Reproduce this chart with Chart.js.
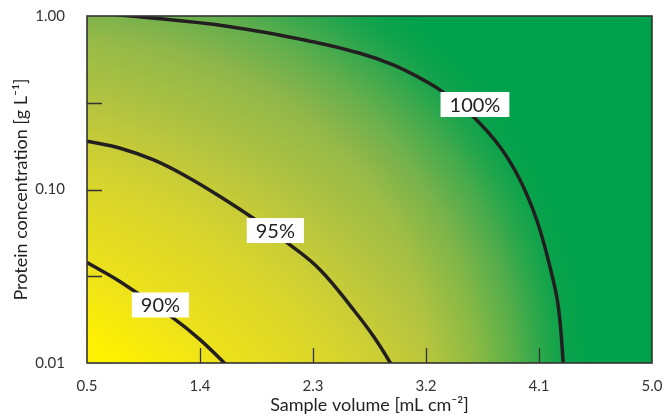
<!DOCTYPE html>
<html>
<head>
<meta charset="utf-8">
<script src="https://cdn.jsdelivr.net/npm/chart.js@4.4.0/dist/chart.umd.min.js"></script>
<style>
  html, body { margin: 0; padding: 0; background: #fff; }
  #wrap { width: 668px; height: 417px; }
</style>
</head>
<body>
<div id="wrap"><canvas id="yieldChart" width="668" height="417"></canvas></div>
<script>
// contour lines (sample volume in mL cm-2, protein concentration in g/L)
const volume100 = [0.5, 0.85, 1.64, 2.30, 2.674, 2.939, 3.205, 3.351, 3.577, 3.789, 3.949, 4.082, 4.187, 4.254, 4.299];
const conc100   = [1.05, 1.0, 0.868, 0.711, 0.610, 0.522, 0.418, 0.358, 0.263, 0.1765, 0.1135, 0.0667, 0.0359, 0.0211, 0.0088];

const volume95 = [0.5, 0.765, 1.031, 1.296, 1.562, 1.828, 2.117, 2.358, 2.624, 2.783, 2.965];
const conc95   = [0.190, 0.173, 0.148, 0.1185, 0.0909, 0.0680, 0.0480, 0.0344, 0.0202, 0.0142, 0.0088];

const volume90 = [0.5, 0.765, 1.190, 1.402, 1.673];
const conc90   = [0.0379, 0.0294, 0.0181, 0.0136, 0.0088];

// contour labels
const labelText = ['100%', '95%', '90%'];
const labelX = [3.59, 2.0, 1.085];
const labelY = [0.309, 0.058, 0.0216];

// ticks
const xTicks = [0.5, 1.4, 2.3, 3.2, 4.1, 5.0];
const yTicks = [0.01, 0.1, 1.0];
const yMinorTicks = [0.0316, 0.316];

const ink = '#231f20';

function toPoints(xs, ys) {
    return xs.map((v, i) => ({x: v, y: ys[i]}));
}

function contour(xs, ys) {
    return {
        data: toPoints(xs, ys),
        showLine: true,
        borderColor: ink,
        borderWidth: 3.5,
        pointRadius: 0,
        fill: false,
        tension: 0.4,
        clip: 0
    };
}

const backdrop = {
    id: 'backdrop',
    beforeDatasetsDraw(chart) {
        const {ctx, chartArea: a} = chart;
        const w = a.right - a.left, h = a.bottom - a.top;
        const u = h / 347;  // gradient was measured on a 347px tall plot
        ctx.save();
        ctx.beginPath();
        ctx.rect(a.left, a.top, w, h);
        ctx.clip();

        // yellow -> green, centred below-left of the plot corner
        ctx.save();
        ctx.translate(a.left - 200 * u, a.bottom + 200 * u);
        ctx.scale(1.25, 1);
        const g = ctx.createRadialGradient(0, 0, 271 * u, 0, 0, 730 * u);
        g.addColorStop(0, '#fff200');
        g.addColorStop(0.139, '#ede21b');
        g.addColorStop(0.251, '#e0d925');
        g.addColorStop(0.307, '#d8d52c');
        g.addColorStop(0.403, '#c6cb38');
        g.addColorStop(0.481, '#b2c340');
        g.addColorStop(0.564, '#9fbd45');
        g.addColorStop(0.651, '#8cb54b');
        g.addColorStop(0.743, '#6fb04d');
        g.addColorStop(0.804, '#55ab4f');
        g.addColorStop(0.878, '#36a74f');
        g.addColorStop(0.946, '#15a24d');
        g.addColorStop(1, '#00a14b');
        ctx.fillStyle = g;
        ctx.fillRect(-3000, -3000, 6000, 6000);
        ctx.restore();

        // full green closes in along the 100% contour
        ctx.save();
        ctx.translate(a.left, a.bottom);
        ctx.scale(1, 0.952);
        const rx = w * 0.855 * 1.04;
        const og = ctx.createRadialGradient(0, 0, 0, 0, 0, rx);
        og.addColorStop(0, 'rgba(0,161,75,0)');
        og.addColorStop(0.673, 'rgba(0,161,75,0)');
        og.addColorStop(0.769, 'rgba(0,161,75,0.15)');
        og.addColorStop(0.846, 'rgba(0,161,75,0.4)');
        og.addColorStop(0.904, 'rgba(0,161,75,0.7)');
        og.addColorStop(0.952, 'rgba(0,161,75,0.92)');
        og.addColorStop(1, 'rgba(0,161,75,1)');
        ctx.fillStyle = og;
        ctx.fillRect(-3000, -3000, 6000, 6000);
        ctx.restore();

        ctx.restore();
    },
    afterDatasetsDraw(chart) {
        const {ctx, chartArea: a, scales} = chart;
        ctx.save();

        // labels on the contours
        ctx.font = '20px Lato';
        ctx.textAlign = 'center';
        ctx.textBaseline = 'middle';
        labelText.forEach((t, i) => {
            const px = scales.x.getPixelForValue(labelX[i]);
            const py = scales.y.getPixelForValue(labelY[i]);
            const bw = ctx.measureText(t).width + 18, bh = 25;
            ctx.fillStyle = '#fff';
            ctx.fillRect(px - bw / 2, py - bh / 2, bw, bh);
            ctx.fillStyle = ink;
            ctx.fillText(t, px, py + 1);
        });

        // inward tick marks
        ctx.strokeStyle = '#333';
        ctx.lineWidth = 1.3;
        ctx.beginPath();
        xTicks.slice(1, -1).forEach(v => {
            const px = Math.round(scales.x.getPixelForValue(v)) + 0.5;
            ctx.moveTo(px, a.bottom);
            ctx.lineTo(px, a.bottom - 15);
        });
        yTicks.slice(1, -1).concat(yMinorTicks).forEach(v => {
            const py = Math.round(scales.y.getPixelForValue(v)) + 0.5;
            ctx.moveTo(a.left, py);
            ctx.lineTo(a.left + 15, py);
        });
        ctx.stroke();

        // frame
        ctx.lineWidth = 1.6;
        ctx.strokeRect(a.left, a.top, a.right - a.left, a.bottom - a.top);
        ctx.restore();
    }
};

const ctx = document.getElementById('yieldChart').getContext('2d');
new Chart(ctx, {
    type: 'scatter',
    data: {
        datasets: [
            contour(volume100, conc100),
            contour(volume95, conc95),
            contour(volume90, conc90)
        ]
    },
    options: {
        responsive: false,
        animation: false,
        layout: {padding: {top: 16, right: 16, left: 0, bottom: 0}},
        plugins: {legend: {display: false}, tooltip: {enabled: false}},
        scales: {
            x: {
                type: 'linear',
                min: 0.5,
                max: 5.0,
                afterBuildTicks: s => { s.ticks = xTicks.map(v => ({value: v})); },
                afterFit: s => { s.height = 54; s.paddingLeft = 0; s.paddingRight = 0; },
                ticks: {
                    callback: v => Number(v).toFixed(1),
                    font: {family: 'Lato', size: 15},
                    color: '#333',
                    padding: 6,
                    maxRotation: 0,
                    autoSkip: false
                },
                grid: {display: false},
                border: {display: false},
                title: {
                    display: true,
                    text: 'Sample volume [mL cm⁻²]',
                    font: {family: 'Lato', size: 18},
                    color: ink,
                    padding: {top: 0, bottom: 1}
                }
            },
            y: {
                type: 'logarithmic',
                min: 0.01,
                max: 1,
                afterBuildTicks: s => { s.ticks = yTicks.map(v => ({value: v})); },
                afterFit: s => { s.width = 87; s.paddingTop = 0; s.paddingBottom = 0; },
                ticks: {
                    callback: v => Number(v).toFixed(2),
                    font: {family: 'Lato', size: 15},
                    color: '#333',
                    padding: 14,
                    autoSkip: false
                },
                grid: {display: false},
                border: {display: false},
                title: {
                    display: true,
                    text: 'Protein concentration [g L⁻¹]',
                    font: {family: 'Lato', size: 18},
                    color: ink,
                    padding: {top: 10, bottom: 0}
                }
            }
        }
    },
    plugins: [backdrop]
});
</script>
</body>
</html>
